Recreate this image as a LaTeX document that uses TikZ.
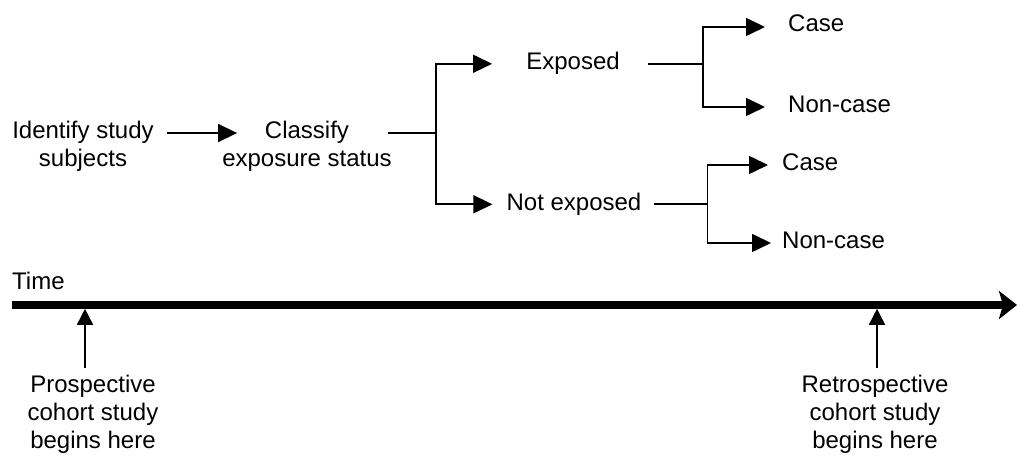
\documentclass[tikz,border=0pt]{standalone}
\usepackage{fontspec}
\setmainfont{Liberation Sans}
\usetikzlibrary{arrows.meta,calc}

\tikzset{
  txt/.style={inner sep=0pt, font=\fontsize{24}{28}\selectfont},
  ln/.style={line width=1.6pt},
  arr/.style={ln, -{Triangle[length=19pt,width=18pt]}},
  uparr/.style={ln, -{Triangle[length=16pt,width=16pt]}},
  timeaxis/.style={line width=7.5pt, -{Stealth[length=18pt,width=28pt,inset=4pt]}}
}

\begin{document}
\begin{tikzpicture}[x=1pt,y=-1pt]
  \useasboundingbox (0,0) rectangle (1017,462);

  % flow of the cohort study
  \node[txt, anchor=north, align=center] (id) at (83,120.5) {Identify study\\subjects};
  \node[txt, anchor=north, align=center] (cl) at (307,120.5) {Classify\\exposure status};
  \node[txt, anchor=base] (ex) at (573,70) {Exposed};
  \node[txt, anchor=base] (nx) at (574,210.5) {Not exposed};
  \node[txt, anchor=base west] (c1) at (788,32) {Case};
  \node[txt, anchor=base west] (n1) at (788,113) {Non-case};
  \node[txt, anchor=base west] (c2) at (782,171) {Case};
  \node[txt, anchor=base west] (n2) at (782,249) {Non-case};

  \draw[arr] ($(id.north east)+(13,12.5)$) coordinate (a0) -- ($(cl.west |- a0)+(15,0)$);

  \draw[ln] ($(cl.north east)+(-4,12.5)$) -- ++(48,0) coordinate (s1);
  \draw[arr] (s1) |- ($(ex.west)+(-34,0)$);
  \draw[arr] (s1) |- ($(nx.west)+(-14,0)$);

  \draw[ln] ($(ex.east)+(28,0)$) -- ++(55,0) coordinate (s2);
  \draw[arr] (s2) |- ($(c1.base west)+(-23,-5)$);
  \draw[arr] (s2) |- ($(n1.base west)+(-23,-6)$);

  \draw[ln] ($(nx.east)+(12,0)$) -- ++(54,0) coordinate (s3);
  \draw[arr] (s3) |- ($(c2.base west)+(-14,-6)$);
  \draw[arr] (s3) |- ($(n2.base west)+(-11,-6)$);

  % time line
  \node[txt, anchor=base west] (time) at (12,290) {Time};
  \coordinate (t0) at (12,305);
  \coordinate (t1) at (1017,305);
  \draw[timeaxis] (t0) -- (t1);

  \node[txt, anchor=north, align=center] (pro) at (93,374.5) {Prospective\\cohort study\\begins here};
  \node[txt, anchor=north, align=center] (ret) at (875,374.5) {Retrospective\\cohort study\\begins here};

  \draw[uparr] ($(pro.north)+(-8,-6.5)$) coordinate (p0) -- ($(p0 |- t0)+(0,3.8)$);
  \draw[uparr] ($(ret.north)+(2,-6.5)$) coordinate (r0) -- ($(r0 |- t0)+(0,3.8)$);
\end{tikzpicture}
\end{document}
